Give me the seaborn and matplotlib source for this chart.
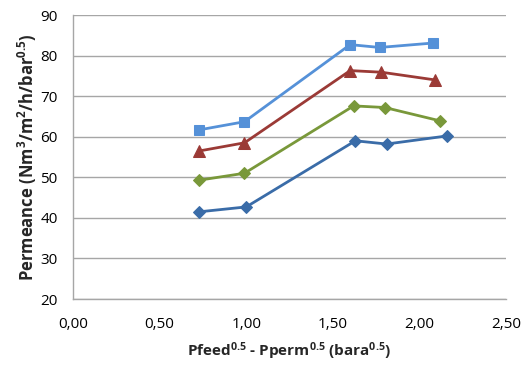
import matplotlib
matplotlib.use("Agg")
import matplotlib.pyplot as plt
import seaborn as sns
import pandas as pd
from matplotlib.ticker import FuncFormatter, MultipleLocator

# Data
x_s1 = [0.73, 0.99, 1.60, 1.77, 2.08]
y_s1 = [61.7, 63.7, 82.7, 82.0, 83.1]   # light blue squares
x_s2 = [0.73, 0.99, 1.60, 1.78, 2.09]
y_s2 = [56.5, 58.5, 76.3, 75.9, 74.0]   # red triangles
x_s3 = [0.73, 0.99, 1.62, 1.80, 2.12]
y_s3 = [49.3, 51.0, 67.6, 67.2, 63.9]   # green diamonds
x_s4 = [0.73, 1.00, 1.63, 1.81, 2.16]
y_s4 = [41.5, 42.7, 59.0, 58.2, 60.2]   # dark blue diamonds

series = [
    ("s1", x_s1, y_s1, "#5591D8", "s", 7.5),
    ("s2", x_s2, y_s2, "#9B3A36", "^", 8.5),
    ("s3", x_s3, y_s3, "#79983A", "D", 6.5),
    ("s4", x_s4, y_s4, "#3A6CA8", "D", 6.5),
]

sns.set_theme(style="white")
plt.rcParams['font.family'] = ['Open Sans', 'DejaVu Sans']
plt.rcParams['mathtext.fontset'] = 'custom'
plt.rcParams['mathtext.rm'] = 'Open Sans'
plt.rcParams['mathtext.bf'] = 'Open Sans:bold'
plt.rcParams['mathtext.default'] = 'bf'

fig = plt.figure(figsize=(5.25, 3.66), dpi=100)
ax = fig.add_axes([0.139, 0.183, 0.825, 0.776])

for name, xs, ys, col, mk, ms in series:
    df = pd.DataFrame({"x": xs, "y": ys})
    sns.lineplot(data=df, x="x", y="y", ax=ax, color=col, marker=mk,
                 markersize=ms, markeredgecolor=col, linewidth=2.0,
                 sort=False, legend=False)

ax.set_xlim(0, 2.5)
ax.set_ylim(20, 90)
ax.xaxis.set_major_locator(MultipleLocator(0.5))
ax.yaxis.set_major_locator(MultipleLocator(10))
ax.xaxis.set_major_formatter(FuncFormatter(lambda v, p: f"{v:.2f}".replace(".", ",")))
ax.yaxis.set_major_formatter(FuncFormatter(lambda v, p: f"{int(v)}"))
ax.yaxis.grid(True, color="#A6A6A6", linewidth=1.0)
ax.xaxis.grid(False)
for s in ["top", "right"]:
    ax.spines[s].set_visible(False)
for s in ["left", "bottom"]:
    ax.spines[s].set_color("#A6A6A6")
    ax.spines[s].set_linewidth(1.0)
ax.tick_params(axis="both", labelsize=11, colors="black", length=0)
ax.tick_params(axis="y", pad=11)
ax.tick_params(axis="x", pad=13)

ax.set_xlabel(r"Pfeed$^{0.5}$ - Pperm$^{0.5}$ (bara$^{0.5}$)", fontsize=11,
              fontweight="bold", labelpad=6)
ax.set_ylabel(r"Permeance (Nm$^{3}$/m$^{2}$/h/bar$^{0.5}$)", fontsize=12,
              fontweight="bold", labelpad=1)

fig.savefig("out.png", dpi=100)
